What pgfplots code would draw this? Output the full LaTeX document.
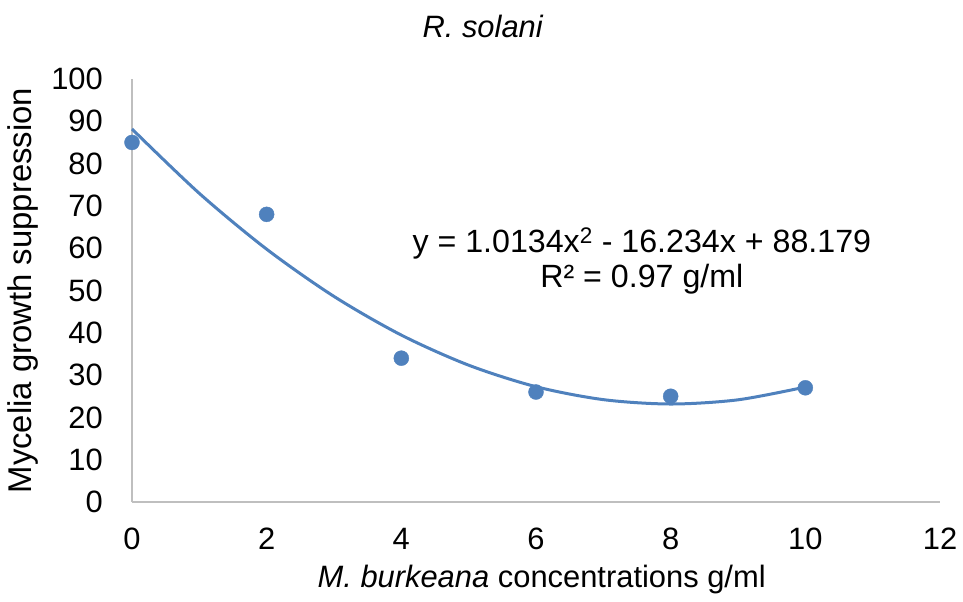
\documentclass[border=0pt]{standalone}
\usepackage{fontspec}
\setmainfont{Liberation Sans}
\usepackage{pgfplots}
\pgfplotsset{compat=1.18}
\definecolor{xlblue}{HTML}{4F81BD}
\definecolor{axgray}{HTML}{BFBFBF}

\begin{document}
\fontsize{31}{37}\selectfont
\begin{tikzpicture}
\useasboundingbox (-132bp,-100bp) rectangle (831bp,502bp);
\begin{axis}[
    at={(0,0)}, anchor=south west,
    scale only axis, width=808bp, height=423bp,
    xmin=0, xmax=12, ymin=0, ymax=100,
    xtick={0,2,...,12}, ytick={0,10,...,100},
    axis lines=left,
    axis line style={-, draw=axgray, line width=1.5bp},
    major tick length=0pt,
    tick label style={font=\fontsize{31}{37}\selectfont, inner sep=0pt},
    /pgf/number format/assume math mode=true,
    yticklabel style={xshift=-29bp},
    xticklabel style={yshift=-26bp},
    clip=false]

% fitted curve: y = 1.0134x^2 - 16.234x + 88.179
\addplot[xlblue, line width=3bp, smooth] coordinates {
    (0,88.179) (1,72.958) (2,59.765) (3,48.598) (4,39.457) (5,32.344)
    (6,27.257) (7,24.198) (8,23.165) (9,24.158) (10,27.179)
};
\addplot[only marks, mark=*, mark size=7.5bp, xlblue] coordinates {
    (0,85) (2,68) (4,34) (6,26) (8,25) (10,27)
};

\node[anchor=base] at (rel axis cs:0.434,1.099) {\itshape R. solani};
\node[anchor=base] at (rel axis cs:0.507,-0.203) {\itshape M. burkeana\upshape{} concentrations g/ml};
\node[anchor=base, rotate=90, font=\fontsize{33}{39}\selectfont] at ([xshift=-100bp]rel axis cs:0,0.5) {Mycelia growth suppression};
\node[anchor=base, font=\fontsize{32.3}{38}\selectfont] at (rel axis cs:0.631,0.591) {y = 1.0134x\textsuperscript{2} - 16.234x + 88.179};
\node[anchor=base, font=\fontsize{32.3}{38}\selectfont] at (rel axis cs:0.631,0.508) {R² = 0.97 g/ml};
\end{axis}
\end{tikzpicture}
\end{document}
